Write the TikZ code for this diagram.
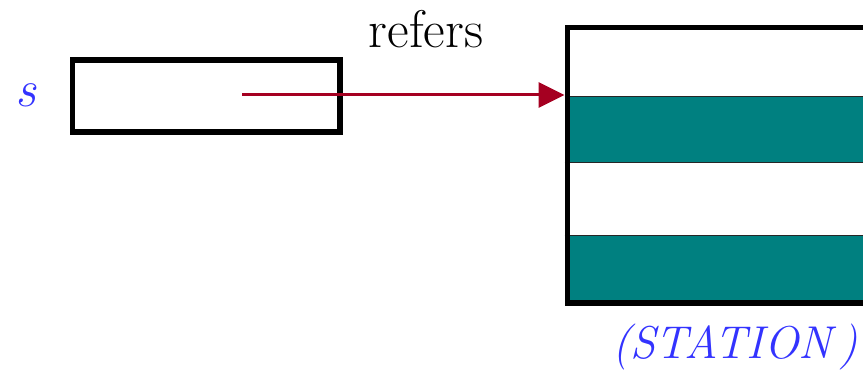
\documentclass[tikz,border=0pt]{standalone}
\usepackage{fontspec}
\usetikzlibrary{arrows.meta}
\definecolor{refred}{HTML}{A50021}
\definecolor{stripeteal}{HTML}{008080}
\definecolor{labelblue}{HTML}{3333FF}
\begin{document}
\begin{tikzpicture}[x=1pt,y=-1pt,
  framebox/.style={draw=black, line width=5.3pt, inner sep=0pt, rectangle},
  stripe/.style={fill=stripeteal},
  divider/.style={draw=black!85, line width=1pt},
  ref arrow/.style={draw=refred, line width=3pt, -{Triangle[length=26pt,width=25pt]}},
  bluelabel/.style={text=labelblue, inner sep=0pt, font=\fontsize{52}{60}\selectfont\itshape},
  caption/.style={text=black, inner sep=0pt, font=\fontsize{53}{60}\selectfont}]
\useasboundingbox (0,0) rectangle (863,374);
\clip (0,0) rectangle (863,374);
% record rows of the referenced object
\fill[stripe] (564.5,96.7) rectangle (900,162.3);
\fill[stripe] (564.5,236) rectangle (900,300.5);
\draw[divider] (564.5,96.7) -- (900,96.7);
\draw[divider] (564.5,162.3) -- (900,162.3);
\draw[divider] (564.5,236) -- (900,236);
% object frame and the reference cell
\node[framebox, minimum width=340pt, minimum height=275.8pt, anchor=north west] (obj) at (564.5,24.7) {};
\node[framebox, minimum width=267.5pt, minimum height=72pt] (cell) at (206.25,96) {};
% labels
\node[bluelabel] (name) at (26,95) {s};
\node[caption] (refers) at (426,29) {refers};
\node[bluelabel, font=\fontsize{46}{56}\selectfont\itshape] (type) at (735,347) {(STATION\,)};
% the reference
\coordinate (ref from) at (242,95);
\draw[ref arrow] (ref from) -- (ref from -| obj.west);
\end{tikzpicture}
\end{document}
